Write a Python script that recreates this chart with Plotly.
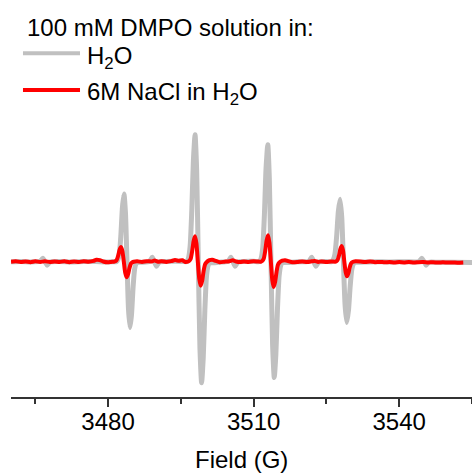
import plotly.graph_objects as go

# ---------------- data ----------------
# Magnetic field (G) and EPR signal (arb. units) for DMPO in H2O
field_h2o = [
    3460.0, 3462.0, 3464.0, 3465.8,
    3466.0, 3466.55, 3467.0, 3467.45, 3468.0,
    3470.0, 3472.5, 3475.0, 3477.5, 3480.0, 3481.2,
    3481.71, 3482.03, 3482.34, 3482.65, 3482.96, 3483.28, 3483.59, 3483.90,
    3484.21, 3484.53, 3484.84, 3485.15, 3485.46, 3485.78, 3486.09,
    3487.0, 3488.55, 3489.1, 3489.55, 3490.0, 3490.55, 3492.0, 3494.0, 3495.5,
    3496.24, 3496.58, 3496.91, 3497.25, 3497.59, 3497.93, 3498.26, 3498.60,
    3498.94, 3499.28, 3499.61, 3499.95, 3500.29, 3500.63, 3500.96,
    3502.0, 3503.5, 3504.75, 3505.3, 3505.75, 3506.2, 3506.75, 3508.0, 3510.0,
    3511.21, 3511.55, 3511.88, 3512.22, 3512.56, 3512.92, 3513.23, 3513.57,
    3513.91, 3514.25, 3514.58, 3514.92, 3515.26, 3515.60, 3515.93,
    3517.0, 3519.0, 3521.4, 3521.95, 3522.4, 3522.85, 3523.4, 3525.0,
    3526.05, 3526.40, 3526.75, 3527.10, 3527.45, 3527.80, 3528.15, 3528.50,
    3528.85, 3529.20, 3529.55, 3529.90, 3530.25, 3530.60, 3530.95,
    3532.0, 3535.0, 3538.0, 3541.0, 3543.5,
    3544.1, 3544.65, 3545.1, 3545.55, 3546.1,
    3548.0, 3551.0, 3555.0,
]
signal_h2o = [
    0.0, 0.3, -0.2, 0.2,
    0.3, 3.5, 0.0, -3.5, -0.3,
    0.2, -0.2, 0.3, 0.1, -0.2, 0.0,
    0.0, 2.0, 8.1, 27.1, 54.2, 67.7, 48.7, 0.0,
    -47.4, -65.8, -52.6, -26.3, -7.9, -2.0, -0.8,
    -0.6, 0.2, 4.5, 0.0, -4.5, -0.3, 0.3, 0.5, 0.2,
    0.0, 3.8, 15.2, 50.8, 101.6, 127.0, 91.4, 0.0,
    -87.1, -121.0, -96.8, -48.4, -14.5, -3.6, -1.2,
    -1.0, -0.3, 0.3, 4.5, 0.0, -4.5, -0.3, 0.3, 0.4,
    0.0, 3.5, 14.0, 46.8, 93.6, 117.0, 84.2, 0.0,
    -83.4, -115.8, -92.6, -46.3, -13.9, -3.5, -1.0,
    -0.8, 0.0, 0.3, 4.5, 0.0, -4.5, -0.3, 0.2,
    0.0, 1.9, 7.5, 25.0, 50.0, 62.5, 45.0, 0.0,
    -43.8, -60.8, -48.6, -24.3, -7.3, -1.8, -0.6,
    -0.5, 0.0, -0.3, 0.0, -0.2,
    0.3, 3.5, 0.0, -3.5, -0.5,
    -0.6, -0.6, -0.8,
]

# DMPO in 6 M NaCl / H2O
field_nacl = [
    3460.0, 3461.0, 3462.0, 3463.0, 3464.0, 3465.0, 3466.0, 3467.0, 3468.0,
    3469.0, 3470.0, 3471.0, 3472.0, 3473.0, 3474.0, 3475.0, 3476.0, 3477.0,
    3477.6, 3478.3, 3479.0, 3480.0, 3480.6,
    3481.20, 3481.50, 3481.79, 3482.08, 3482.37, 3482.67, 3482.96, 3483.25,
    3483.54, 3483.84, 3484.13, 3484.42, 3484.71, 3485.01, 3485.30,
    3486.0, 3487.0, 3488.0, 3489.0, 3489.6, 3490.3, 3491.0, 3492.0, 3493.0,
    3493.8, 3494.6, 3495.3, 3495.9,
    3496.44, 3496.73, 3497.03, 3497.32, 3497.62, 3497.91, 3498.21, 3498.50,
    3498.80, 3499.09, 3499.39, 3499.68, 3499.98, 3500.27,
    3500.9, 3501.5, 3502.2, 3503.0, 3504.0, 3505.0, 3505.7, 3506.4, 3507.2,
    3508.0, 3509.0, 3510.0, 3510.8,
    3511.50, 3511.80, 3512.09, 3512.38, 3512.67, 3512.96, 3513.26, 3513.55,
    3513.84, 3514.13, 3514.43, 3514.72, 3515.01, 3515.31,
    3515.9, 3516.5, 3517.2, 3518.0, 3519.0, 3520.0, 3521.0, 3522.0, 3522.6,
    3523.3, 3524.0, 3525.0, 3526.0,
    3526.77, 3527.04, 3527.32, 3527.59, 3527.87, 3528.14, 3528.42, 3528.69,
    3528.97, 3529.24, 3529.52, 3529.79, 3530.07, 3530.34,
    3531.0, 3532.0, 3533.0, 3534.0, 3535.0, 3536.0, 3537.0, 3538.0, 3539.0,
    3540.0, 3541.0, 3542.0, 3543.0, 3544.0, 3545.0, 3546.0, 3547.0, 3548.0,
    3549.0, 3550.0, 3551.0, 3552.0, 3553.2,
]
signal_nacl = [
    0.0, 0.5, -0.4, 0.3, -0.5, 0.4, -0.3, 0.5, -0.4,
    0.3, -0.2, 0.4, -0.5, 0.2, -0.3, 0.5, 0.0, 0.8,
    2.0, 1.6, 0.2, -0.6, -0.2,
    0.0, 0.4, 1.8, 5.9, 11.8, 14.7, 10.6, 0.0,
    -11.2, -15.6, -12.5, -6.2, -1.9, -0.5, 0.0,
    0.4, -0.3, 0.5, 0.2, 1.2, 0.0, 0.4, -0.2, 0.6,
    1.6, 1.0, 1.4, -0.3,
    0.0, 0.8, 3.0, 10.2, 20.3, 25.4, 18.3, 0.0,
    -17.3, -24.0, -19.2, -9.6, -2.9, -0.7,
    1.5, 2.0, 0.8, -0.5, 0.0, 0.5, 1.5, 0.2, -0.4,
    0.3, -0.2, 0.5, 0.2,
    0.0, 0.8, 3.2, 10.6, 21.1, 26.4, 19.0, 0.0,
    -18.2, -25.3, -20.2, -10.1, -3.0, -0.8,
    1.0, 1.5, 0.5, -0.5, -0.3, 0.2, -0.3, 0.4, 0.8,
    -0.2, 0.3, -0.2, 0.2,
    0.0, 0.5, 1.9, 6.3, 12.6, 15.7, 11.3, 0.0,
    -10.5, -14.6, -11.7, -5.8, -1.8, -0.4,
    0.5, 0.2, -0.4, 0.3, -0.5, -0.2, -0.6, -0.3, -0.8,
    -0.4, -0.7, -0.3, -0.9, -0.5, -0.4, -0.8, -0.5, -0.9,
    -0.6, -0.8, -0.7, -1.0, -0.8,
]

x_ticks = [3480, 3510, 3540]
x_minor_ticks = [3465, 3495, 3525, 3555]
x_range = [3460, 3555]
y_range = [-135.3, 141.7]

x_title = "Field (G)"
legend_title = "100 mM DMPO solution in:"
name_h2o = "H<sub>2</sub>O"
name_nacl = "6M NaCl in H<sub>2</sub>O"

GRAY = "#c0c0c0"
RED = "#ff0000"
AXIS = "#333333"
FONT = "Arial, Liberation Sans, sans-serif"

fig = go.Figure()
fig.add_trace(go.Scatter(x=field_h2o, y=signal_h2o, mode="lines", name=name_h2o,
                         line=dict(color=GRAY, width=5, shape="spline", smoothing=0.6),
                         showlegend=False))
fig.add_trace(go.Scatter(x=field_nacl, y=signal_nacl, mode="lines", name=name_nacl,
                         line=dict(color=RED, width=4, shape="spline", smoothing=0.6),
                         showlegend=False))

# manual legend (long line samples as in the reference)
legend_items = [(name_h2o, GRAY, 1.2408, 1.226), (name_nacl, RED, 1.1083, 1.095)]
for label, col, ly, ty in legend_items:
    fig.add_shape(type="line", xref="paper", yref="paper", x0=0.026, x1=0.1497,
                  y0=ly, y1=ly, line=dict(color=col, width=4))
    fig.add_annotation(xref="paper", yref="paper", x=0.16, y=ty, text=label,
                       showarrow=False, xanchor="left", yanchor="middle",
                       font=dict(size=24, color="black", family=FONT))
fig.add_annotation(xref="paper", yref="paper", x=0.031, y=1.333, text=legend_title,
                   showarrow=False, xanchor="left", yanchor="middle",
                   font=dict(size=24, color="black", family=FONT))
fig.add_annotation(xref="paper", yref="paper", x=0.5, y=-0.2274, text=x_title,
                   showarrow=False, xanchor="center", yanchor="middle",
                   font=dict(size=24, color="black", family=FONT))

fig.update_layout(
    width=472, height=475,
    margin=dict(l=11, r=0, t=120, b=78, autoexpand=False),
    paper_bgcolor="white", plot_bgcolor="white",
    font=dict(family=FONT, size=24, color="black"),
    xaxis=dict(
        range=x_range, tickvals=x_ticks, showline=True, linecolor=AXIS, linewidth=1.5,
        ticks="outside", ticklen=8, tickwidth=1.5, tickcolor=AXIS,
        showgrid=False, zeroline=False, automargin=False, ticklabelstandoff=-6,
        tickfont=dict(size=24, color="black", family=FONT),
        minor=dict(tickvals=x_minor_ticks, ticks="outside", ticklen=5,
                   tickwidth=1.5, tickcolor=AXIS, showgrid=False),
    ),
    yaxis=dict(range=y_range, visible=False, showgrid=False, zeroline=False,
               automargin=False),
)

# remove the browser's default 8px page margin so the figure sits at (0, 0)
fig.write_html("out.html", config={"displayModeBar": False},
               post_script="document.body.style.margin='0';document.body.style.padding='0';")
